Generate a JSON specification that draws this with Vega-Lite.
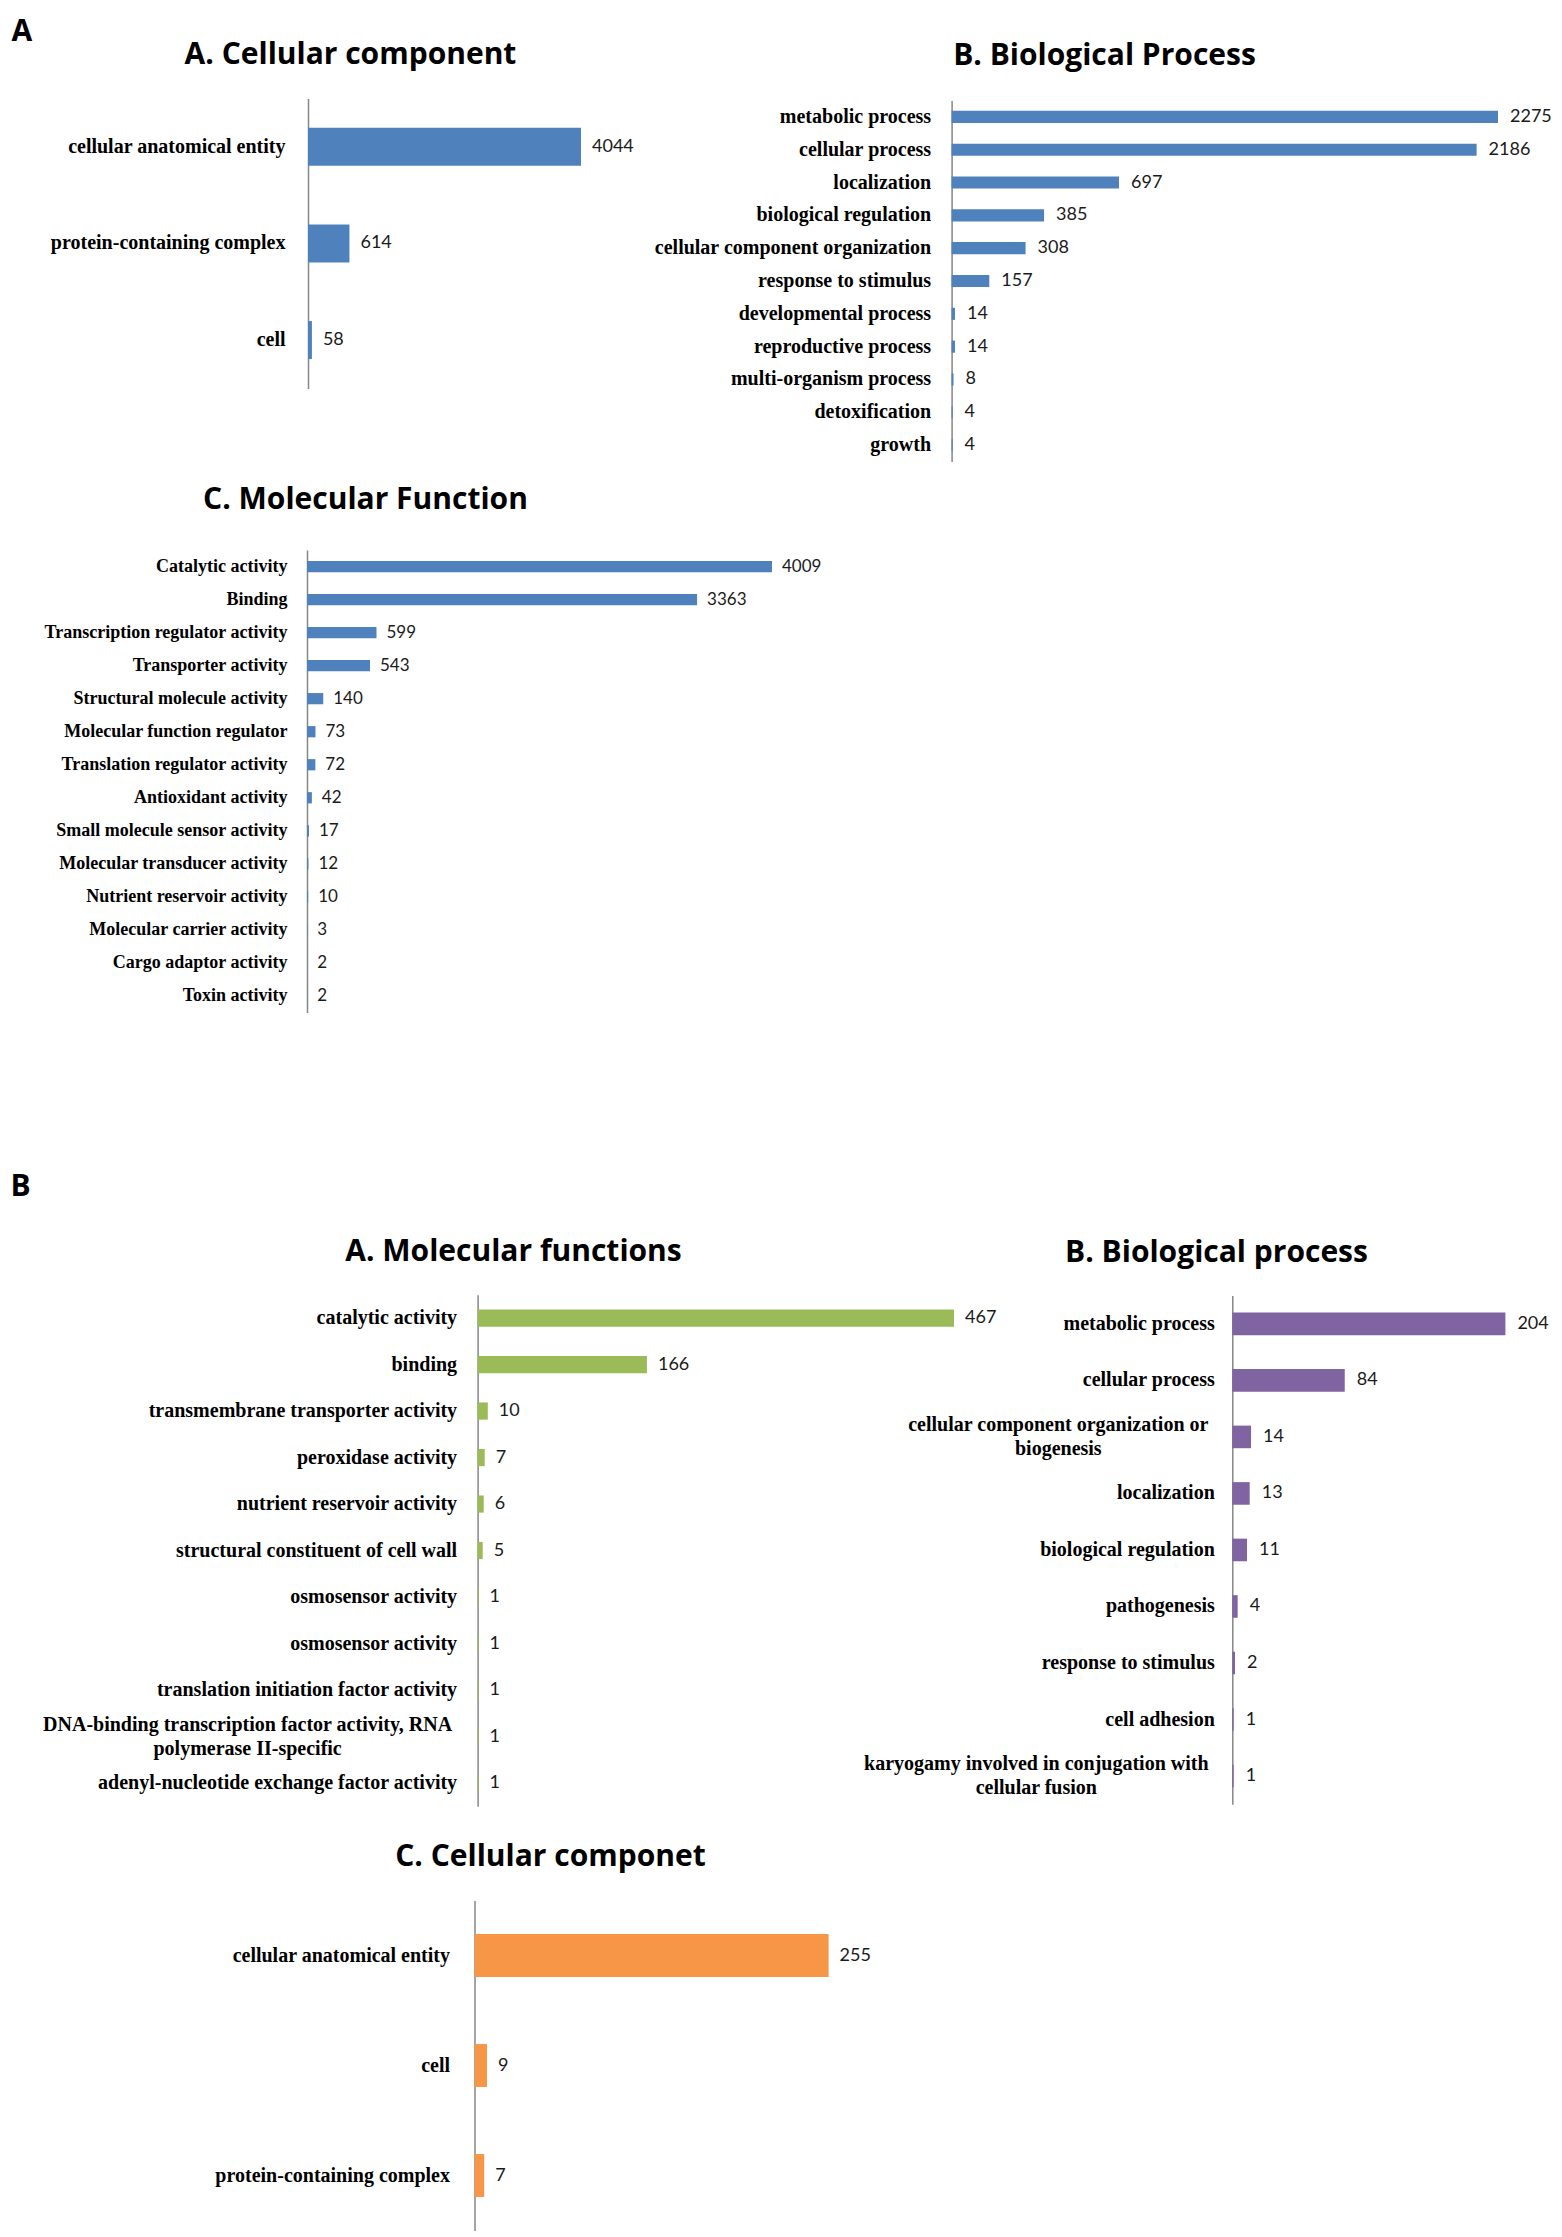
{
  "$schema": "https://vega.github.io/schema/vega-lite/v6.json",
  "width": 1562,
  "height": 2237,
  "autosize": {"type": "none"},
  "padding": 0,
  "background": "white",
  "config": {"view": {"stroke": null}},
  "datasets": {
    "cc1": [
      {"term": "cellular anatomical entity", "count": 4044},
      {"term": "protein-containing complex", "count": 614},
      {"term": "cell", "count": 58}
    ],
    "bp1": [
      {"term": "metabolic process", "count": 2275},
      {"term": "cellular process", "count": 2186},
      {"term": "localization", "count": 697},
      {"term": "biological regulation", "count": 385},
      {"term": "cellular component organization", "count": 308},
      {"term": "response to stimulus", "count": 157},
      {"term": "developmental process", "count": 14},
      {"term": "reproductive process", "count": 14},
      {"term": "multi-organism process", "count": 8},
      {"term": "detoxification", "count": 4},
      {"term": "growth", "count": 4}
    ],
    "mf1": [
      {"term": "Catalytic activity", "count": 4009},
      {"term": "Binding", "count": 3363},
      {"term": "Transcription regulator activity", "count": 599},
      {"term": "Transporter activity", "count": 543},
      {"term": "Structural molecule activity", "count": 140},
      {"term": "Molecular function regulator", "count": 73},
      {"term": "Translation regulator activity", "count": 72},
      {"term": "Antioxidant activity", "count": 42},
      {"term": "Small molecule sensor activity", "count": 17},
      {"term": "Molecular transducer activity", "count": 12},
      {"term": "Nutrient reservoir activity", "count": 10},
      {"term": "Molecular carrier activity", "count": 3},
      {"term": "Cargo adaptor activity", "count": 2},
      {"term": "Toxin activity", "count": 2}
    ],
    "mf2": [
      {"term": "catalytic activity", "count": 467},
      {"term": "binding", "count": 166},
      {"term": "transmembrane transporter activity", "count": 10},
      {"term": "peroxidase activity", "count": 7},
      {"term": "nutrient reservoir activity", "count": 6},
      {"term": "structural constituent of cell wall", "count": 5},
      {"term": "osmosensor activity", "count": 1},
      {"term": "osmosensor activity ", "count": 1},
      {"term": "translation initiation factor activity", "count": 1},
      {"term": "DNA-binding transcription factor activity, RNA\npolymerase II-specific", "count": 1},
      {"term": "adenyl-nucleotide exchange factor activity", "count": 1}
    ],
    "bp2": [
      {"term": "metabolic process", "count": 204},
      {"term": "cellular process", "count": 84},
      {"term": "cellular component organization or\nbiogenesis", "count": 14},
      {"term": "localization", "count": 13},
      {"term": "biological regulation", "count": 11},
      {"term": "pathogenesis", "count": 4},
      {"term": "response to stimulus", "count": 2},
      {"term": "cell adhesion", "count": 1},
      {"term": "karyogamy involved in conjugation with\ncellular fusion", "count": 1}
    ],
    "cc2": [
      {"term": "cellular anatomical entity", "count": 255},
      {"term": "cell", "count": 9},
      {"term": "protein-containing complex", "count": 7}
    ]
  },
  "resolve": {
    "scale": {"x": "independent", "y": "independent"},
    "axis": {"x": "independent", "y": "independent"}
  },
  "layer": [
    {
      "data": {"name": "cc1"},
      "mark": {"type": "bar", "color": "#4F81BD"},
      "encoding": {
        "y": {"field": "term", "type": "nominal", "sort": null,
          "scale": {"range": [98.4, 388.4], "paddingInner": 0.607, "paddingOuter": 0.3035},
          "axis": {"orient": "left", "offset": -308, "domain": true, "domainColor": "#868686", "domainWidth": 1.5, "ticks": false, "tickSize": 0, "grid": false,
            "labelFont": "Liberation Serif", "labelFontWeight": "bold", "labelFontSize": 20, "labelColor": "#000000", "labelPadding": 23, "labelLimit": 2000, "labelOverlap": false,
            "title": "A", "titleAngle": 0, "titleX": -297, "titleY": 40, "titleAlign": "left", "titleBaseline": "alphabetic", "titleFont": "Open Sans", "titleFontWeight": "bold", "titleFontSize": 30, "titleColor": "#000000"}},
        "x": {"field": "count", "type": "quantitative",
          "scale": {"domain": [0, 4044], "range": [308, 581], "nice": false, "zero": true},
          "axis": {"orient": "top", "offset": 0, "domain": false, "ticks": false, "labels": false, "grid": false,
            "title": "A. Cellular component", "titleX": 350, "titleY": 63.5, "titleAlign": "center", "titleBaseline": "alphabetic", "titleFont": "Open Sans", "titleFontWeight": "bold", "titleFontSize": 30, "titleColor": "#000000"}}
      }
    },
    {
      "data": {"name": "cc1"},
      "mark": {"type": "text", "align": "left", "baseline": "middle", "dx": 11, "font": "Lato", "fontSize": 18, "color": "#1a1a1a"},
      "encoding": {
        "y": {"field": "term", "type": "nominal", "sort": null, "scale": {"range": [98.4, 388.4], "paddingInner": 0.607, "paddingOuter": 0.3035}, "axis": null},
        "x": {"field": "count", "type": "quantitative", "scale": {"domain": [0, 4044], "range": [308, 581], "nice": false, "zero": true}, "axis": null},
        "text": {"field": "count", "type": "quantitative"}
      }
    },
    {
      "data": {"name": "bp1"},
      "mark": {"type": "bar", "color": "#4F81BD"},
      "encoding": {
        "y": {"field": "term", "type": "nominal", "sort": null,
          "scale": {"range": [100.5, 461.5], "paddingInner": 0.63, "paddingOuter": 0.315},
          "axis": {"orient": "left", "offset": -951.6, "domain": true, "domainColor": "#868686", "domainWidth": 1.5, "ticks": false, "tickSize": 0, "grid": false,
            "labelFont": "Liberation Serif", "labelFontWeight": "bold", "labelFontSize": 20, "labelColor": "#000000", "labelPadding": 21, "labelLimit": 2000, "labelOverlap": false, "title": null}},
        "x": {"field": "count", "type": "quantitative",
          "scale": {"domain": [0, 2275], "range": [951.6, 1498], "nice": false, "zero": true},
          "axis": {"orient": "top", "offset": 0, "domain": false, "ticks": false, "labels": false, "grid": false,
            "title": "B. Biological Process", "titleX": 1104, "titleY": 64.5, "titleAlign": "center", "titleBaseline": "alphabetic", "titleFont": "Open Sans", "titleFontWeight": "bold", "titleFontSize": 30, "titleColor": "#000000"}}
      }
    },
    {
      "data": {"name": "bp1"},
      "mark": {"type": "text", "align": "left", "baseline": "middle", "dx": 12, "font": "Lato", "fontSize": 18, "color": "#1a1a1a"},
      "encoding": {
        "y": {"field": "term", "type": "nominal", "sort": null, "scale": {"range": [100.5, 461.5], "paddingInner": 0.63, "paddingOuter": 0.315}, "axis": null},
        "x": {"field": "count", "type": "quantitative", "scale": {"domain": [0, 2275], "range": [951.6, 1498], "nice": false, "zero": true}, "axis": null},
        "text": {"field": "count", "type": "quantitative"}
      }
    },
    {
      "data": {"name": "mf1"},
      "mark": {"type": "bar", "color": "#4F81BD"},
      "encoding": {
        "y": {"field": "term", "type": "nominal", "sort": null,
          "scale": {"range": [550, 1012.5], "paddingInner": 0.66, "paddingOuter": 0.33},
          "axis": {"orient": "left", "offset": -307, "domain": true, "domainColor": "#868686", "domainWidth": 1.5, "ticks": false, "tickSize": 0, "grid": false,
            "labelFont": "Liberation Serif", "labelFontWeight": "bold", "labelFontSize": 18, "labelColor": "#000000", "labelPadding": 20, "labelLimit": 2000, "labelOverlap": false, "title": null}},
        "x": {"field": "count", "type": "quantitative",
          "scale": {"domain": [0, 4009], "range": [307, 772], "nice": false, "zero": true},
          "axis": {"orient": "top", "offset": 0, "domain": false, "ticks": false, "labels": false, "grid": false,
            "title": "C. Molecular Function", "titleX": 365, "titleY": 508, "titleAlign": "center", "titleBaseline": "alphabetic", "titleFont": "Open Sans", "titleFontWeight": "bold", "titleFontSize": 30, "titleColor": "#000000"}}
      }
    },
    {
      "data": {"name": "mf1"},
      "mark": {"type": "text", "align": "left", "baseline": "middle", "dx": 10, "font": "Lato", "fontSize": 17, "color": "#1a1a1a"},
      "encoding": {
        "y": {"field": "term", "type": "nominal", "sort": null, "scale": {"range": [550, 1012.5], "paddingInner": 0.66, "paddingOuter": 0.33}, "axis": null},
        "x": {"field": "count", "type": "quantitative", "scale": {"domain": [0, 4009], "range": [307, 772], "nice": false, "zero": true}, "axis": null},
        "text": {"field": "count", "type": "quantitative"}
      }
    },
    {
      "data": {"name": "mf2"},
      "mark": {"type": "bar", "color": "#9BBB59"},
      "encoding": {
        "y": {"field": "term", "type": "nominal", "sort": null,
          "scale": {"range": [1294.8, 1806.3], "paddingInner": 0.63, "paddingOuter": 0.315},
          "axis": {"orient": "left", "offset": -477.6, "domain": true, "domainColor": "#868686", "domainWidth": 1.5, "ticks": false, "tickSize": 0, "grid": false,
            "labelFont": "Liberation Serif", "labelFontWeight": "bold", "labelFontSize": 20, "labelColor": "#000000", "labelPadding": 21, "labelLimit": 2000, "labelOverlap": false,
            "labelExpr": "indexof(datum.label, '\\n') >= 0 ? '' : datum.label",
            "title": "B", "titleAngle": 0, "titleX": -467.6, "titleY": 1195, "titleAlign": "left", "titleBaseline": "alphabetic", "titleFont": "Open Sans", "titleFontWeight": "bold", "titleFontSize": 30, "titleColor": "#000000"}},
        "x": {"field": "count", "type": "quantitative",
          "scale": {"domain": [0, 467], "range": [477.6, 954], "nice": false, "zero": true},
          "axis": {"orient": "top", "offset": 0, "domain": false, "ticks": false, "labels": false, "grid": false,
            "title": "A. Molecular functions", "titleX": 513, "titleY": 1260, "titleAlign": "center", "titleBaseline": "alphabetic", "titleFont": "Open Sans", "titleFontWeight": "bold", "titleFontSize": 30, "titleColor": "#000000"}}
      }
    },
    {
      "data": {"name": "mf2"},
      "mark": {"type": "text", "align": "left", "baseline": "middle", "dx": 11, "font": "Lato", "fontSize": 18, "color": "#1a1a1a"},
      "encoding": {
        "y": {"field": "term", "type": "nominal", "sort": null, "scale": {"range": [1294.8, 1806.3], "paddingInner": 0.63, "paddingOuter": 0.315}, "axis": null},
        "x": {"field": "count", "type": "quantitative", "scale": {"domain": [0, 467], "range": [477.6, 954], "nice": false, "zero": true}, "axis": null},
        "text": {"field": "count", "type": "quantitative"}
      }
    },
    {
      "data": {"name": "mf2"},
      "transform": [{"filter": "indexof(datum.term, '\\n') >= 0"}],
      "mark": {"type": "text", "align": "center", "baseline": "middle", "dx": -230, "dy": -12, "lineBreak": "\n", "lineHeight": 24, "font": "Liberation Serif", "fontWeight": "bold", "fontSize": 20, "color": "#000000"},
      "encoding": {
        "y": {"field": "term", "type": "nominal", "scale": {"domain": ["catalytic activity", "binding", "transmembrane transporter activity", "peroxidase activity", "nutrient reservoir activity", "structural constituent of cell wall", "osmosensor activity", "osmosensor activity ", "translation initiation factor activity", "DNA-binding transcription factor activity, RNA\npolymerase II-specific", "adenyl-nucleotide exchange factor activity"], "range": [1294.8, 1806.3], "paddingInner": 0.63, "paddingOuter": 0.315}, "axis": null},
        "x": {"datum": 0, "type": "quantitative", "scale": {"domain": [0, 467], "range": [477.6, 954], "nice": false, "zero": true}, "axis": null},
        "text": {"field": "term", "type": "nominal"}
      }
    },
    {
      "data": {"name": "bp2"},
      "mark": {"type": "bar", "color": "#8064A2"},
      "encoding": {
        "y": {"field": "term", "type": "nominal", "sort": null,
          "scale": {"range": [1295.6, 1804.3], "paddingInner": 0.6, "paddingOuter": 0.3},
          "axis": {"orient": "left", "offset": -1232.3, "domain": true, "domainColor": "#868686", "domainWidth": 1.5, "ticks": false, "tickSize": 0, "grid": false,
            "labelFont": "Liberation Serif", "labelFontWeight": "bold", "labelFontSize": 20, "labelColor": "#000000", "labelPadding": 18, "labelLimit": 2000, "labelOverlap": false,
            "labelExpr": "indexof(datum.label, '\\n') >= 0 ? '' : datum.label", "title": null}},
        "x": {"field": "count", "type": "quantitative",
          "scale": {"domain": [0, 204], "range": [1232.3, 1505.4], "nice": false, "zero": true},
          "axis": {"orient": "top", "offset": 0, "domain": false, "ticks": false, "labels": false, "grid": false,
            "title": "B. Biological process", "titleX": 1216, "titleY": 1261, "titleAlign": "center", "titleBaseline": "alphabetic", "titleFont": "Open Sans", "titleFontWeight": "bold", "titleFontSize": 30, "titleColor": "#000000"}}
      }
    },
    {
      "data": {"name": "bp2"},
      "mark": {"type": "text", "align": "left", "baseline": "middle", "dx": 12, "font": "Lato", "fontSize": 18, "color": "#1a1a1a"},
      "encoding": {
        "y": {"field": "term", "type": "nominal", "sort": null, "scale": {"range": [1295.6, 1804.3], "paddingInner": 0.6, "paddingOuter": 0.3}, "axis": null},
        "x": {"field": "count", "type": "quantitative", "scale": {"domain": [0, 204], "range": [1232.3, 1505.4], "nice": false, "zero": true}, "axis": null},
        "text": {"field": "count", "type": "quantitative"}
      }
    },
    {
      "data": {"name": "bp2"},
      "transform": [{"filter": "indexof(datum.term, 'biogenesis') >= 0"}],
      "mark": {"type": "text", "align": "center", "baseline": "middle", "dx": -174, "dy": -12, "lineBreak": "\n", "lineHeight": 24, "font": "Liberation Serif", "fontWeight": "bold", "fontSize": 20, "color": "#000000"},
      "encoding": {
        "y": {"field": "term", "type": "nominal", "scale": {"domain": ["metabolic process", "cellular process", "cellular component organization or\nbiogenesis", "localization", "biological regulation", "pathogenesis", "response to stimulus", "cell adhesion", "karyogamy involved in conjugation with\ncellular fusion"], "range": [1295.6, 1804.3], "paddingInner": 0.6, "paddingOuter": 0.3}, "axis": null},
        "x": {"datum": 0, "type": "quantitative", "scale": {"domain": [0, 204], "range": [1232.3, 1505.4], "nice": false, "zero": true}, "axis": null},
        "text": {"field": "term", "type": "nominal"}
      }
    },
    {
      "data": {"name": "bp2"},
      "transform": [{"filter": "indexof(datum.term, 'karyogamy') >= 0"}],
      "mark": {"type": "text", "align": "center", "baseline": "middle", "dx": -196, "dy": -12, "lineBreak": "\n", "lineHeight": 24, "font": "Liberation Serif", "fontWeight": "bold", "fontSize": 20, "color": "#000000"},
      "encoding": {
        "y": {"field": "term", "type": "nominal", "scale": {"domain": ["metabolic process", "cellular process", "cellular component organization or\nbiogenesis", "localization", "biological regulation", "pathogenesis", "response to stimulus", "cell adhesion", "karyogamy involved in conjugation with\ncellular fusion"], "range": [1295.6, 1804.3], "paddingInner": 0.6, "paddingOuter": 0.3}, "axis": null},
        "x": {"datum": 0, "type": "quantitative", "scale": {"domain": [0, 204], "range": [1232.3, 1505.4], "nice": false, "zero": true}, "axis": null},
        "text": {"field": "term", "type": "nominal"}
      }
    },
    {
      "data": {"name": "cc2"},
      "mark": {"type": "bar", "color": "#F79646"},
      "encoding": {
        "y": {"field": "term", "type": "nominal", "sort": null,
          "scale": {"range": [1900.5, 2230.5], "paddingInner": 0.61, "paddingOuter": 0.305},
          "axis": {"orient": "left", "offset": -474.5, "domain": true, "domainColor": "#868686", "domainWidth": 1.5, "ticks": false, "tickSize": 0, "grid": false,
            "labelFont": "Liberation Serif", "labelFontWeight": "bold", "labelFontSize": 20, "labelColor": "#000000", "labelPadding": 25, "labelLimit": 2000, "labelOverlap": false, "title": null}},
        "x": {"field": "count", "type": "quantitative",
          "scale": {"domain": [0, 255], "range": [474.5, 828.6], "nice": false, "zero": true},
          "axis": {"orient": "top", "offset": 0, "domain": false, "ticks": false, "labels": false, "grid": false,
            "title": "C. Cellular componet", "titleX": 550, "titleY": 1865, "titleAlign": "center", "titleBaseline": "alphabetic", "titleFont": "Open Sans", "titleFontWeight": "bold", "titleFontSize": 30, "titleColor": "#000000"}}
      }
    },
    {
      "data": {"name": "cc2"},
      "mark": {"type": "text", "align": "left", "baseline": "middle", "dx": 11, "font": "Lato", "fontSize": 18, "color": "#1a1a1a"},
      "encoding": {
        "y": {"field": "term", "type": "nominal", "sort": null, "scale": {"range": [1900.5, 2230.5], "paddingInner": 0.61, "paddingOuter": 0.305}, "axis": null},
        "x": {"field": "count", "type": "quantitative", "scale": {"domain": [0, 255], "range": [474.5, 828.6], "nice": false, "zero": true}, "axis": null},
        "text": {"field": "count", "type": "quantitative"}
      }
    }
  ]
}
